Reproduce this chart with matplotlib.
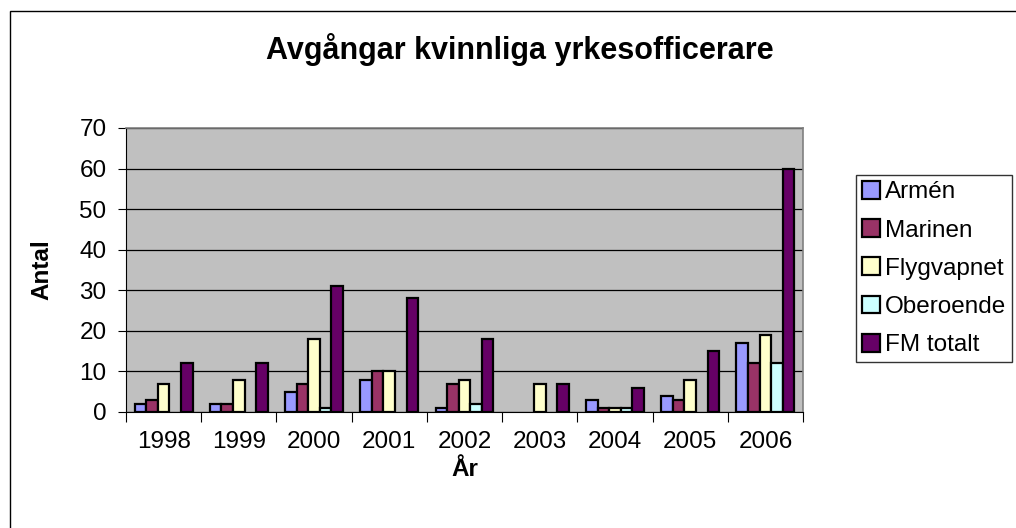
import matplotlib
matplotlib.use("Agg")
import matplotlib.pyplot as plt
import matplotlib.patches as mpatches
import numpy as np

plt.rcParams['font.family'] = ['Liberation Sans', 'DejaVu Sans']

years = ["1998", "1999", "2000", "2001", "2002", "2003", "2004", "2005", "2006"]
series_names = ["Armén", "Marinen", "Flygvapnet", "Oberoende", "FM totalt"]
armen = [2, 2, 5, 8, 1, 0, 3, 4, 17]
marinen = [3, 2, 7, 10, 7, 0, 1, 3, 12]
flygvapnet = [7, 8, 18, 10, 8, 7, 1, 8, 19]
oberoende = [0, 0, 1, 0, 2, 0, 1, 0, 12]
fm_totalt = [12, 12, 31, 28, 18, 7, 6, 15, 60]
colors = ["#9999FF", "#993366", "#FFFFCC", "#CCFFFF", "#660066"]

W, H = 1016, 528
fig = plt.figure(figsize=(W / 100, H / 100), dpi=100)
fig.patch.set_facecolor("white")

# outer chart border (only left/top visible)
fig.patches.append(mpatches.Rectangle((10 / W, -0.1), 1.2, 1 - 11 / H + 0.1,
                                      transform=fig.transFigure, fill=False,
                                      edgecolor="black", linewidth=1.0))

left, right, top, bottom = 126, 803, 128, 412
ax = fig.add_axes([left / W, 1 - bottom / H, (right - left) / W, (bottom - top) / H])
ax.set_facecolor("#C0C0C0")

data = [armen, marinen, flygvapnet, oberoende, fm_totalt]
n = len(data)
x = np.arange(len(years))
bw = 1 / 6.5
for i, (vals, name, c) in enumerate(zip(data, series_names, colors)):
    offs = (i - (n - 1) / 2) * bw
    v = np.array(vals, dtype=float)
    v[v == 0] = np.nan  # zero-valued bars are not drawn
    ax.bar(x + offs, v, width=bw, color=c, edgecolor="black", linewidth=1.6,
           label=name, zorder=3)

ax.set_xlim(-0.5, len(years) - 0.5)
ax.set_ylim(0, 70)
ax.set_yticks(range(0, 71, 10))
ax.yaxis.grid(True, color="black", linewidth=0.9, zorder=1)
ax.set_axisbelow(True)
ax.set_xticks(x)
ax.set_xticklabels(years)
ax.set_xticks(np.arange(-0.5, len(years), 1), minor=True)
ax.tick_params(axis="x", which="major", length=0, pad=14, labelsize=17.5)
ax.tick_params(axis="x", which="minor", length=7, width=0.8, direction="out")
ax.tick_params(axis="y", length=6, width=0.8, direction="out", pad=8, labelsize=17.5)
for s in ["top", "right"]:
    ax.spines[s].set_color("#808080")
    ax.spines[s].set_linewidth(1.2)
ax.spines["left"].set_color("black")
ax.spines["bottom"].set_color("black")

ax.set_ylabel("Antal", fontsize=17.5, fontweight="bold", labelpad=19)
ax.set_xlabel("År", fontsize=17.5, fontweight="bold", labelpad=3)

fig.text(520 / W, 1 - 50 / H, "Avgångar kvinnliga yrkesofficerare", ha="center",
         va="center", fontsize=22, fontweight="bold")

leg = fig.legend(loc="upper left", bbox_to_anchor=(856 / W, 1 - 175 / H),
                 frameon=True, fancybox=False, edgecolor="black", fontsize=17.5,
                 handlelength=0.75, handleheight=0.75, handletextpad=0.2,
                 labelspacing=0.65, borderpad=0.25, borderaxespad=0)
leg.get_frame().set_linewidth(1.0)
for p in leg.get_patches():
    p.set_linewidth(1.6)

fig.savefig("out.png", dpi=100)
